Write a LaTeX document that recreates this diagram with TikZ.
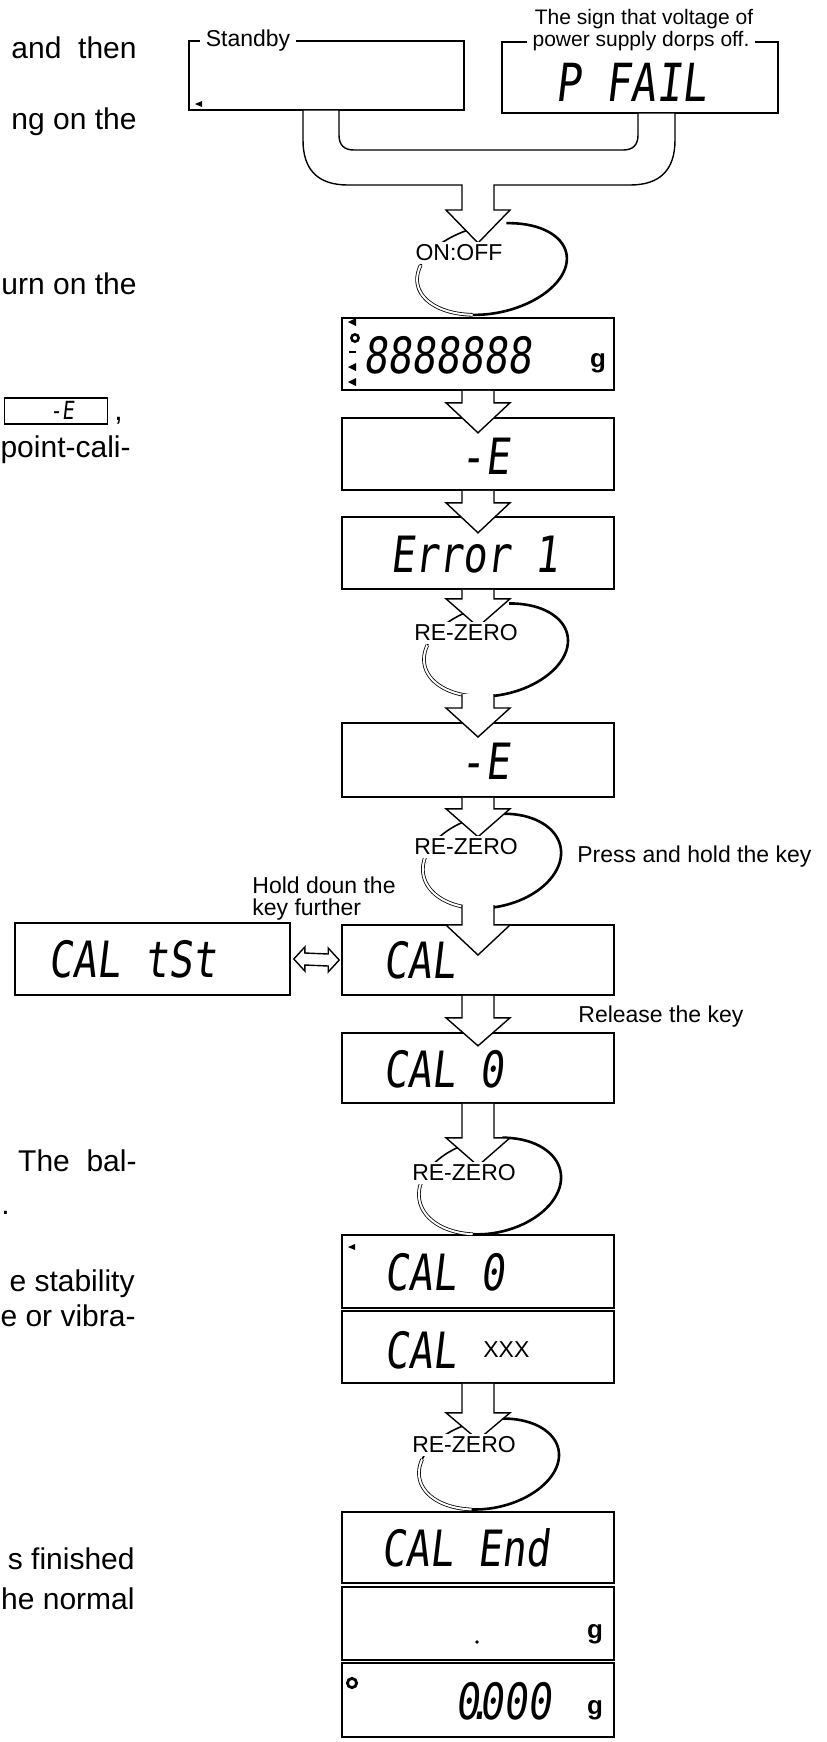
\documentclass[tikz,border=0pt]{standalone}
\usepackage{graphicx}
\usepackage{fontspec}
\setmainfont{Liberation Sans}
\newfontfamily\lcdfont[FakeSlant=0.15]{DejaVu Sans Mono}
\usetikzlibrary{calc}

% segment display lettering, stretched upwards
\newcommand\lcd[1]{\scalebox{1}[1.25]{#1}}
% key press loop: centre x, centre y, x radius, y radius
\newcommand\keyloop[4]{%
  \draw[loopthick] plot[domain=-72:112,samples=45,variable=\t] ({#1+0.978*#3*cos(\t)+0.208*#4*sin(\t)},{#2-0.208*#3*cos(\t)+0.978*#4*sin(\t)});
  \draw[loopdbl] plot[domain=112:205,samples=30,variable=\t] ({#1+0.978*#3*cos(\t)+0.208*#4*sin(\t)},{#2-0.208*#3*cos(\t)+0.978*#4*sin(\t)});
  \draw[loopthin] plot[domain=205:262,samples=20,variable=\t] ({#1+0.978*#3*cos(\t)+0.208*#4*sin(\t)},{#2-0.208*#3*cos(\t)+0.978*#4*sin(\t)});}
% hollow block arrow: start point, stem length, head depth
\newcommand\fatarrow[3]{%
  \draw[fatarr] ($(#1)+(-16,0)$) -- ++(0,#2) -- ++(-16,0) -- ++(32,#3) -- ++(32,-#3) -- ++(-16,0) -- ++(0,-#2);}

\tikzset{
  disp/.style={draw,line width=0.8pt,minimum width=136pt,minimum height=36pt,inner sep=0pt},
  seg/.style={font=\lcdfont\fontsize{20}{20}\selectfont,inner sep=0pt},
  lbl/.style={font=\fontsize{11.5}{11}\selectfont,inner sep=0pt},
  toplbl/.style={font=\fontsize{10.5}{10}\selectfont,inner sep=0pt},
  keylbl/.style={lbl,fill=white,inner sep=1.5pt},
  body/.style={font=\fontsize{15}{18}\selectfont,inner sep=0pt,anchor=base east},
  gunit/.style={font=\bfseries\fontsize{13}{13}\selectfont,inner sep=0pt},
  fatarr/.style={draw,line width=0.7pt,fill=white,line join=miter},
  loopthick/.style={line width=1.3pt},
  loopdbl/.style={double,double distance=1pt,line width=0.4pt},
  loopthin/.style={line width=0.8pt}
}

\begin{document}
\begin{tikzpicture}[x=0.5pt,y=-0.5pt]
  \useasboundingbox (0,0) rectangle (826,1742);

  % body text cut off at the left
  \node[body] (t1) at (137,58) {and~~then};
  \node[body] (t2) at (137,129) {ng on the};
  \node[body] (t3) at (137,294) {urn on the};
  \node[draw,line width=0.7pt,minimum width=51.5pt,minimum height=13pt,inner sep=0pt] (ebox) at (56,411) {};
  \node[seg,font=\lcdfont\fontsize{10}{10}\selectfont] (etxt) at (62,410) {\lcd{-E}};
  \node[body,anchor=base west] (comma) at (114,420) {,};
  \node[body] (t4) at (131,457) {point-cali-};
  \node[body] (t5) at (137,1171) {The~~bal-};
  \node[body,anchor=base west] (t6) at (1,1214) {.};
  \node[body] (t7) at (135,1291) {e stability};
  \node[body] (t8) at (136,1326) {e or vibra-};
  \node[body] (t9) at (135,1569) {s finished};
  \node[body] (t10) at (135,1609) {he normal};

  % top displays
  \node[disp,minimum width=137.5pt,minimum height=34.5pt] (stby) at (326.5,75.5) {};
  \node[disp,minimum width=138pt,minimum height=35.5pt] (pfail) at (640,77.5) {};
  \node[keylbl,inner xsep=3pt] (stbylbl) at (248,41) {Standby};
  \node[toplbl] (sign1) at (644,19) {The sign that voltage of};
  \node[toplbl,fill=white,inner xsep=3pt,inner ysep=0pt] (sign2) at (641,41) {power supply dorps off.};
  \fill (195,104) -- (202,101) -- (202,107) -- cycle;
  \node[seg,font=\lcdfont\fontsize{21}{21}\selectfont] (pfailtxt) at (631,82) {\lcd{P FAIL}};

  % column of displays
  \node[disp] (b1) at (478,354) {};
  \node[disp] (b2) at (478,454) {};
  \node[disp] (b3) at (478,553) {};
  \node[disp,minimum height=37pt] (b4) at (478,760) {};
  \node[disp,minimum height=35pt] (cal) at (478,960) {};
  \node[disp,minimum width=137.5pt,minimum height=36pt] (caltst) at (152.5,959) {};
  \node[disp,minimum height=35pt] (cal0) at (478,1068) {};
  \node[disp,minimum height=36.5pt] (cal0b) at (478,1271.5) {};
  \node[disp] (calx) at (478,1347) {};
  \node[disp,minimum height=35.5pt] (calend) at (478,1547.5) {};
  \node[disp,minimum height=36.5pt] (blank) at (478,1623.5) {};
  \node[disp,minimum height=37pt] (zero) at (478,1700) {};

  % key loops
  \keyloop{492}{269}{76}{44}
  \keyloop{496}{650}{73}{45}
  \keyloop{492}{861}{70}{46}
  \keyloop{490}{1186}{72}{47}
  \keyloop{489}{1464}{71}{44}

  % merging arrow from the two top displays
  \draw[fatarr] (303,110) -- (303,140) .. controls (303,170) and (318,185) .. (348,185)
    -- (462,185) -- (462,210) -- (446,210) -- (478,243) -- (510,210) -- (494,210) -- (494,185)
    -- (630,185) .. controls (660,185) and (675,170) .. (675,140) -- (675,113) -- (638,113)
    -- (638,135) .. controls (638,145) and (633,150) .. (623,150) -- (354,150)
    .. controls (344,150) and (339,145) .. (339,135) -- (339,110) -- cycle;

  \coordinate (l1out) at (478,694);
  \coordinate (l2out) at (478,905);
  \fatarrow{b1.south}{12}{30}
  \fatarrow{b2.south}{12}{30}
  \fatarrow{b3.south}{9}{28}
  \fatarrow{l1out}{14}{29}
  \fatarrow{b4.south}{11}{28}
  \fatarrow{l2out}{20}{30}
  \fatarrow{cal.south}{22}{28}
  \fatarrow{cal0.south}{34}{28}
  \fatarrow{calx.south}{29}{27}

  % key names
  \node[keylbl] (onoff) at (459,253) {ON:OFF};
  \node[keylbl] (rz1) at (466,633) {RE-ZERO};
  \node[keylbl] (rz2) at (466,847) {RE-ZERO};
  \node[keylbl] (rz3) at (464,1173) {RE-ZERO};
  \node[keylbl] (rz4) at (464,1445) {RE-ZERO};

  % notes
  \node[lbl,anchor=west] (press) at (577,857) {Press and hold the key};
  \node[lbl,anchor=west,align=left] (hold) at (252,899) {Hold doun the\\key further};
  \node[lbl,anchor=west] (release) at (578,1017) {Release the key};

  % double arrow between CAL tSt and CAL
  \coordinate (dl) at ($(caltst.east)+(3,0)$);
  \coordinate (dr) at ($(cal.west)+(-2,0)$);
  \draw[line width=0.7pt] (dl) -- ++(11,-12) -- ++(0,6) -- ($(dr)+(-11,-6)$) -- ++(0,-6) -- (dr)
    -- ++(-11,12) -- ++(0,-6) -- ($(dl)+(11,6)$) -- ++(0,6) -- cycle;

  % display contents
  \foreach \yy in {322,367,382} \fill (348,\yy) -- (356,\yy-4) -- (356,\yy+4) -- cycle;
  \draw[line width=1.3pt] (355,338) circle (1.8pt);
  \draw[line width=0.8pt] (349,352) -- (356,352);
  \node[seg,anchor=west] (b1txt) at (363,355) {\lcd{8888888}};
  \node[gunit] (b1g) at (598,363) {g};
  \node[seg] (b2txt) at (485,456) {\lcd{-E}};
  \node[seg,anchor=west] (b3txt) at (390,555) {\lcd{Error 1}};
  \node[seg] (b4txt) at (485,761) {\lcd{-E}};
  \node[seg,anchor=west] (caltxt) at (383,960) {\lcd{CAL}};
  \node[seg,anchor=west] (caltsttxt) at (48,959) {\lcd{CAL tSt}};
  \node[seg,anchor=west] (cal0txt) at (383,1069) {\lcd{CAL 0}};
  \fill (348,1247) -- (355,1244) -- (355,1250) -- cycle;
  \node[seg,anchor=west] (cal0btxt) at (384,1272) {\lcd{CAL 0}};
  \node[seg,anchor=west] (calxtxt) at (384,1350) {\lcd{CAL}};
  \node[lbl,anchor=west] (xxx) at (483,1350) {XXX};
  \node[seg,anchor=west] (calendtxt) at (381,1548) {\lcd{CAL End}};
  \fill (477,1642) circle (0.9pt);
  \node[gunit] (blankg) at (595,1634) {g};
  \draw[line width=1.4pt] (352,1683) circle (2.3pt);
  \node[seg,anchor=west] (zerotxt) at (455,1701) {\lcd{0\makebox[0pt]{.}000}};
  \node[gunit] (zerog) at (595,1710) {g};
\end{tikzpicture}
\end{document}
